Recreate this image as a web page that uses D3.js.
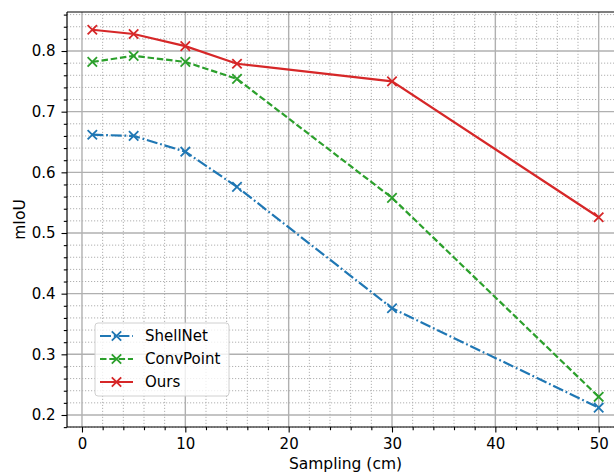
<!DOCTYPE html>
<html>
<head>
<meta charset="utf-8">
<script src="https://cdn.jsdelivr.net/npm/d3@7"></script>
<style>
  body { margin: 0; background: #fff; }
  svg { display: block; font-family: "DejaVu Sans", sans-serif; }
</style>
</head>
<body>
<div id="chart"></div>
<script>
// sampling distances (cm)
const sampling = [1, 5, 10, 15, 30, 50];

const shellNet = [0.662, 0.660, 0.634, 0.576, 0.376, 0.212];
const convPoint = [0.782, 0.792, 0.782, 0.754, 0.558, 0.230];
const ours = [0.835, 0.828, 0.808, 0.779, 0.750, 0.526];

const xTicks = [0, 10, 20, 30, 40, 50];
const yTicks = [0.2, 0.3, 0.4, 0.5, 0.6, 0.7, 0.8];

const series = [
  { name: "ShellNet", values: shellNet, color: "#1f77b4", dash: "11,2.8,1.8,2.8" },
  { name: "ConvPoint", values: convPoint, color: "#2ca02c", dash: "6.5,2.8" },
  { name: "Ours", values: ours, color: "#d62728", dash: null }
];

const width = 614, height = 473;
const margin = { left: 67, top: 12, right: -10, bottom: 46 };
const fs = 15;

const svg = d3.select("#chart").append("svg")
  .attr("width", width)
  .attr("height", height);

const x = d3.scaleLinear()
  .domain([-1.45, 52.45])
  .range([margin.left, width - margin.right]);

const y = d3.scaleLinear()
  .domain([0.1802, 0.8643])
  .range([height - margin.bottom, margin.top]);

const x0 = margin.left, x1 = width - margin.right;
const y0 = height - margin.bottom, y1 = margin.top;

svg.append("clipPath").attr("id", "plot")
  .append("rect").attr("x", x0).attr("y", y1).attr("width", x1 - x0).attr("height", y0 - y1);

const grid = svg.append("g");

// minor grid
const xMinor = d3.range(0, 54, 2).filter(v => v % 10 !== 0);
const yMinor = d3.range(0.18, 0.87, 0.02).filter(v => Math.abs(v * 10 - Math.round(v * 10)) > 1e-6);

grid.selectAll(".xminor").data(xMinor).join("line")
  .attr("x1", d => x(d)).attr("x2", d => x(d))
  .attr("y1", y0).attr("y2", y1)
  .attr("stroke", "#b0b0b0").attr("stroke-width", 1)
  .attr("stroke-dasharray", "1.2,1.8");

grid.selectAll(".yminor").data(yMinor).join("line")
  .attr("x1", x0).attr("x2", x1)
  .attr("y1", d => y(d)).attr("y2", d => y(d))
  .attr("stroke", "#b0b0b0").attr("stroke-width", 1)
  .attr("stroke-dasharray", "1.2,1.8");

// major grid
grid.selectAll(".xmajor").data(xTicks).join("line")
  .attr("x1", d => x(d)).attr("x2", d => x(d))
  .attr("y1", y0).attr("y2", y1)
  .attr("stroke", "#b0b0b0").attr("stroke-width", 1.4);

grid.selectAll(".ymajor").data(yTicks).join("line")
  .attr("x1", x0).attr("x2", x1)
  .attr("y1", d => y(d)).attr("y2", d => y(d))
  .attr("stroke", "#b0b0b0").attr("stroke-width", 1.4);

// lines
const line = d3.line()
  .x((d, i) => x(sampling[i]))
  .y(d => y(d));

const plot = svg.append("g").attr("clip-path", "url(#plot)");
const m = 4.7;

series.forEach(s => {
  plot.append("path")
    .attr("d", line(s.values))
    .attr("fill", "none")
    .attr("stroke", s.color)
    .attr("stroke-width", 2.2)
    .attr("stroke-dasharray", s.dash);

  plot.selectAll(null).data(s.values).join("path")
    .attr("d", (d, i) => {
      const cx = x(sampling[i]), cy = y(d);
      return `M${cx - m},${cy - m}L${cx + m},${cy + m}M${cx - m},${cy + m}L${cx + m},${cy - m}`;
    })
    .attr("stroke", s.color)
    .attr("stroke-width", 1.8);
});

// axes
const xAxis = svg.append("g")
  .attr("transform", `translate(0,${y0})`)
  .call(d3.axisBottom(x).tickValues(xTicks).tickSize(5.5).tickPadding(5.8).tickFormat(d3.format("d")));

const xAxisMinor = svg.append("g")
  .attr("transform", `translate(0,${y0})`)
  .call(d3.axisBottom(x).tickValues(xMinor).tickSize(3.2).tickFormat(""));

const yAxis = svg.append("g")
  .attr("transform", `translate(${x0},0)`)
  .call(d3.axisLeft(y).tickValues(yTicks).tickSize(5.5).tickPadding(6).tickFormat(d3.format(".1f")));

const yAxisMinor = svg.append("g")
  .attr("transform", `translate(${x0},0)`)
  .call(d3.axisLeft(y).tickValues(yMinor).tickSize(3.2).tickFormat(""));

[xAxis, xAxisMinor, yAxis, yAxisMinor].forEach(a => {
  a.select(".domain").remove();
  a.selectAll("line").attr("stroke", "#000").attr("stroke-width", 1.1);
  a.selectAll("text").attr("font-size", fs).attr("fill", "#000")
    .attr("font-family", "DejaVu Sans, sans-serif");
});

// spines
[[x0, y0, x0, y1], [x0, y0, x1, y0], [x0, y1, x1, y1]].forEach(([a, b, c, d]) => {
  svg.append("line").attr("x1", a).attr("y1", b).attr("x2", c).attr("y2", d)
    .attr("stroke", "#000").attr("stroke-width", 1.2);
});

// axis labels
svg.append("text")
  .attr("x", (x0 + x1) / 2).attr("y", 469)
  .attr("text-anchor", "middle")
  .attr("font-size", 15.5)
  .text("Sampling (cm)");

svg.append("text")
  .attr("transform", `translate(25,${(y0 + y1) / 2}) rotate(-90)`)
  .attr("text-anchor", "middle")
  .attr("font-size", 15.5)
  .text("mIoU");

// legend
const legend = svg.append("g").attr("transform", "translate(95,323)");
legend.append("rect")
  .attr("width", 134).attr("height", 73).attr("rx", 3)
  .attr("fill", "#fff").attr("fill-opacity", 0.8)
  .attr("stroke", "#d0d0d0").attr("stroke-width", 1);

series.forEach((s, i) => {
  const g = legend.append("g").attr("transform", `translate(0,${13 + i * 23})`);
  g.append("line").attr("x1", 5).attr("x2", 38).attr("y1", 0).attr("y2", 0)
    .attr("stroke", s.color).attr("stroke-width", 2.2)
    .attr("stroke-dasharray", s.dash);
  const cx = 21.5;
  g.append("path")
    .attr("d", `M${cx - m},${-m}L${cx + m},${m}M${cx - m},${m}L${cx + m},${-m}`)
    .attr("stroke", s.color).attr("stroke-width", 1.8);
  g.append("text").attr("x", 50).attr("y", 0).attr("dy", "0.35em")
    .attr("font-size", fs).text(s.name);
});
</script>
</body>
</html>
